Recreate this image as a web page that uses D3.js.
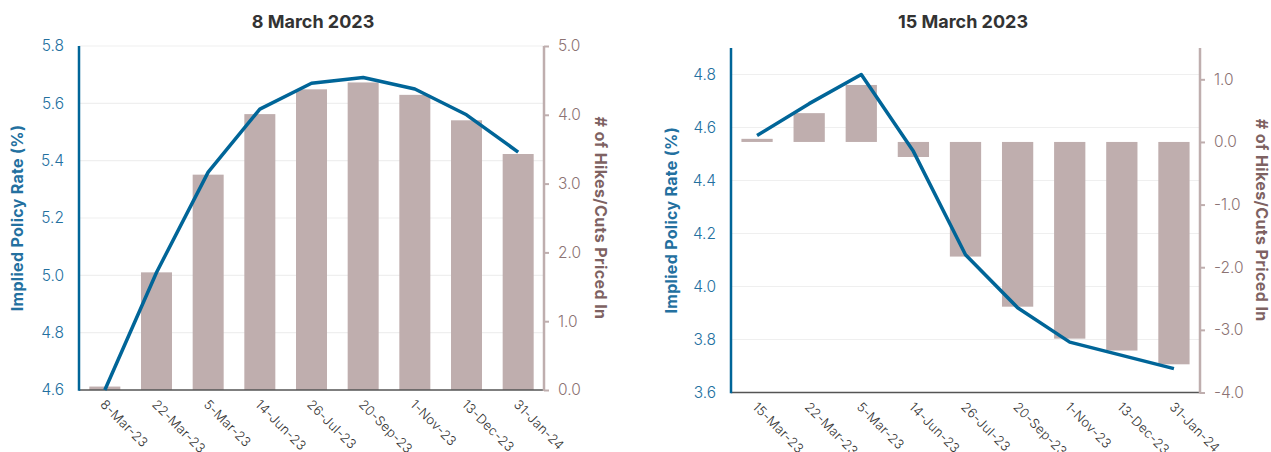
<!DOCTYPE html>
<html>
<head>
<meta charset="utf-8">
<script src="https://cdn.jsdelivr.net/npm/d3@7"></script>
<style>
  html, body { margin: 0; padding: 0; background: #fff; }
  svg { display: block; font-family: "Inter", "Noto Sans", sans-serif; }
</style>
</head>
<body>
<svg id="chart" width="1271" height="452"></svg>
<script>
// ---- Data ----
const titles = ["8 March 2023", "15 March 2023"];
const categoriesA = ["8-Mar-23", "22-Mar-23", "5-Mar-23", "14-Jun-23", "26-Jul-23", "20-Sep-23", "1-Nov-23", "13-Dec-23", "31-Jan-24"];
const categoriesB = ["15-Mar-23", "22-Mar-23", "5-Mar-23", "14-Jun-23", "26-Jul-23", "20-Sep-23", "1-Nov-23", "13-Dec-23", "31-Jan-24"];
const rateA = [4.60, 5.01, 5.36, 5.58, 5.67, 5.69, 5.65, 5.56, 5.43];
const hikesA = [0.05, 1.71, 3.13, 4.01, 4.37, 4.47, 4.29, 3.92, 3.43];
const rateB = [4.57, 4.69, 4.80, 4.51, 4.12, 3.92, 3.79, 3.74, 3.69];
const hikesB = [0.05, 0.46, 0.91, -0.24, -1.83, -2.63, -3.14, -3.33, -3.55];
const leftDomainA = [4.6, 5.8];
const rightDomainA = [0, 5];
const leftTicksA = [4.6, 4.8, 5.0, 5.2, 5.4, 5.6, 5.8];
const rightTicksA = [0, 1, 2, 3, 4, 5];
const leftDomainB = [3.6, 4.9];
const rightDomainB = [-4, 1.5];
const leftTicksB = [3.6, 3.8, 4.0, 4.2, 4.4, 4.6, 4.8];
const rightTicksB = [-4, -3, -2, -1, 0, 1];
const leftLabel = "Implied Policy Rate (%)";
const rightLabel = "# of Hikes/Cuts Priced In";

const BLUE = "#006598";
const BLUE_TXT = "#23709F";
const BAR = "#BFAEAE";
const MAUVE_TXT = "#8C7373";
const MAUVE_LBL = "#7E6262";

const svg = d3.select("#chart");

function panel(opts) {
  const { x0, x1, top, bottom, cats, rate, hikes, lDom, rDom, lTicks, rTicks, title, titleX, leftLblX, rightLblX } = opts;
  const g = svg.append("g");
  const x = d3.scaleBand().domain(cats).range([x0, x1]).paddingInner(0.4).paddingOuter(0.2);
  const yL = d3.scaleLinear().domain(lDom).range([bottom, top]);
  const yR = d3.scaleLinear().domain(rDom).range([bottom, top]);

  // gridlines
  g.append("g").selectAll("line").data(lTicks.filter(t => t !== lDom[0])).join("line")
    .attr("x1", x0).attr("x2", x1)
    .attr("y1", d => yL(d)).attr("y2", d => yL(d))
    .attr("stroke", "#EFEFEF").attr("stroke-width", 1.2);

  // bars
  g.append("g").selectAll("rect").data(cats).join("rect")
    .attr("x", d => x(d))
    .attr("width", x.bandwidth())
    .attr("y", (d, i) => Math.min(yR(hikes[i]), yR(0)))
    .attr("height", (d, i) => Math.abs(yR(hikes[i]) - yR(0)))
    .attr("fill", BAR);

  // x axis line
  g.append("line").attr("x1", x0).attr("x2", x1).attr("y1", bottom).attr("y2", bottom)
    .attr("stroke", "#555").attr("stroke-width", 1.5);

  // line
  const line = d3.line().x((d, i) => x(cats[i]) + x.bandwidth() / 2).y(d => yL(d));
  g.append("path").datum(rate).attr("d", line)
    .attr("fill", "none").attr("stroke", BLUE).attr("stroke-width", 3.5)
    .attr("stroke-linejoin", "round");

  // left axis
  const axL = d3.axisLeft(yL).tickValues(lTicks).tickSize(0).tickPadding(15).tickFormat(d3.format(".1f"));
  const gl = g.append("g").attr("transform", `translate(${x0},0)`).call(axL);
  gl.select(".domain").remove();
  gl.selectAll("text").attr("fill", BLUE_TXT).style("font-size", "15.5px").style("font-family", "Inter, sans-serif").style("font-weight", 300);
  g.append("line").attr("x1", x0).attr("x2", x0).attr("y1", top).attr("y2", bottom + 0.75)
    .attr("stroke", BLUE).attr("stroke-width", 2.5);

  // right axis
  const axR = d3.axisRight(yR).tickValues(rTicks).tickSize(5).tickPadding(9).tickFormat(d3.format(".1f"));
  const gr = g.append("g").attr("transform", `translate(${x1},0)`).call(axR);
  gr.select(".domain").remove();
  gr.selectAll("line").attr("stroke", BAR).attr("stroke-width", 2);
  gr.selectAll("text").attr("fill", MAUVE_TXT).style("font-size", "15.5px").style("font-family", "Inter, sans-serif").style("font-weight", 300)
    .text(d => d < 0 ? "-" + d3.format(".1f")(-d) : d3.format(".1f")(d));
  g.append("line").attr("x1", x1).attr("x2", x1).attr("y1", top).attr("y2", bottom + 1)
    .attr("stroke", BAR).attr("stroke-width", 2.5);

  // x labels
  g.append("g").selectAll("text").data(cats).join("text")
    .attr("transform", d => `translate(${x(d) + x.bandwidth() / 2 - 2},${bottom + 12}) rotate(45)`)
    .attr("text-anchor", "start")
    .attr("dy", "0.35em")
    .attr("fill", "#333")
    .style("font-size", "13px")
    .style("letter-spacing", "0.3px")
    .style("font-weight", 300)
    .text(d => d);

  // title
  g.append("text").attr("x", titleX).attr("y", 28).attr("text-anchor", "middle")
    .attr("fill", "#333").style("font-size", "18px").style("font-weight", 700).text(title);

  // axis labels
  const midY = (top + bottom) / 2;
  g.append("text").attr("transform", `translate(${leftLblX},${midY}) rotate(-90)`)
    .attr("text-anchor", "middle").attr("dy", "0.35em")
    .attr("fill", BLUE_TXT).style("font-size", "16px").style("letter-spacing", "0.3px").style("font-weight", 700).text(leftLabel);
  g.append("text").attr("transform", `translate(${rightLblX},${midY}) rotate(90)`)
    .attr("text-anchor", "middle").attr("dy", "0.35em")
    .attr("fill", MAUVE_LBL).style("font-size", "16px").style("letter-spacing", "0.4px").style("font-weight", 700).text(rightLabel);
}

panel({ x0: 79, x1: 544, top: 46, bottom: 390, cats: categoriesA, rate: rateA, hikes: hikesA,
  lDom: leftDomainA, rDom: rightDomainA, lTicks: leftTicksA, rTicks: rightTicksA,
  title: titles[0], titleX: 313, leftLblX: 17, rightLblX: 601 });

panel({ x0: 731, x1: 1200, top: 48, bottom: 392.5, cats: categoriesB, rate: rateB, hikes: hikesB,
  lDom: leftDomainB, rDom: rightDomainB, lTicks: leftTicksB, rTicks: rightTicksB,
  title: titles[1], titleX: 963, leftLblX: 671, rightLblX: 1262 });
</script>
</body>
</html>
